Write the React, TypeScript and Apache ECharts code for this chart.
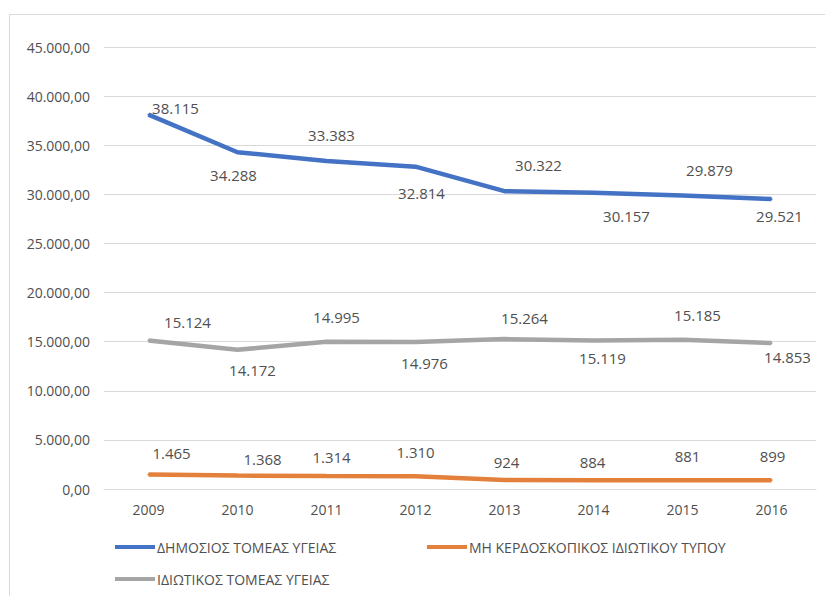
import React, { useEffect, useRef } from "react";
import * as echarts from "echarts";

const years = ["2009", "2010", "2011", "2012", "2013", "2014", "2015", "2016"];
const publicName = "ΔΗΜΟΣΙΟΣ ΤΟΜΕΑΣ ΥΓΕΙΑΣ";
const nonProfitName = "ΜΗ ΚΕΡΔΟΣΚΟΠΙΚΟΣ ΙΔΙΩΤΙΚΟΥ ΤΥΠΟΥ";
const privateName = "ΙΔΙΩΤΙΚΟΣ ΤΟΜΕΑΣ ΥΓΕΙΑΣ";
const publicValues = [38115, 34288, 33383, 32814, 30322, 30157, 29879, 29521];
const nonProfitValues = [1465, 1368, 1314, 1310, 924, 884, 881, 899];
const privateValues = [15124, 14172, 14995, 14976, 15264, 15119, 15185, 14853];

// label offsets (px) relative to each point, mimicking the reference placement
const publicLabelOffsets = [[27, -7], [-4, 23], [5, -26], [6, 26], [34, -26], [33, 23], [27, -26], [8, 17]];
const privateLabelOffsets = [[39, -18], [15, 20], [10, -25], [9, 21], [20, -21], [9, 18], [15, -25], [16, 14]];
const nonProfitLabelOffsets = [[23, -22], [25, -17], [5, -19], [0, -24], [2, -18], [-1, -18], [5, -24], [1, -24]];

const FONT = "'Open Sans', 'Noto Sans', sans-serif";
const TEXT = "#505050";

const fmtThousands = (n: number) => String(Math.round(n)).replace(/\B(?=(\d{3})+(?!\d))/g, ".");
const fmtAxis = (v: number) => fmtThousands(v) + ",00";

function buildData(values: number[], offsets: number[][]) {
  return values.map((v, i) => ({
    value: v,
    label: {
      show: true,
      position: "inside",
      offset: offsets[i],
      formatter: () => fmtThousands(v),
      color: TEXT,
      fontSize: 15,
      fontFamily: FONT,
      align: "center",
      verticalAlign: "middle",
    },
  }));
}

export default function App() {
  const ref = useRef<HTMLDivElement>(null);
  useEffect(() => {
    if (!ref.current) return;
    const chart = echarts.init(ref.current, null, { renderer: "svg" });
    const legendCommon = {
      orient: "horizontal",
      icon: "rect",
      itemWidth: 40,
      itemHeight: 4,
      padding: 0,
      textStyle: { color: TEXT, fontSize: 14, fontFamily: FONT, padding: [0, 0, 0, -3] },
      selectedMode: false,
    };
    chart.setOption({
      animation: false,
      backgroundColor: "#ffffff",
      graphic: [
        {
          type: "rect",
          shape: { x: 9.5, y: 14.5, width: 900, height: 700 },
          style: { fill: "none", stroke: "#d9d9d9", lineWidth: 1 },
          silent: true,
          z: -1,
        },
      ],
      grid: { left: 104, right: 9, top: 47, bottom: 107, containLabel: false },
      legend: [
        { ...legendCommon, data: [publicName], left: 115, top: 540 },
        { ...legendCommon, data: [nonProfitName], left: 427, top: 540 },
        { ...legendCommon, data: [privateName], left: 115, top: 572 },
      ],
      xAxis: {
        type: "category",
        data: years,
        boundaryGap: true,
        axisLine: { show: true, lineStyle: { color: "#d9d9d9", width: 1 } },
        axisTick: { show: false },
        axisLabel: { color: TEXT, fontSize: 14, fontFamily: FONT, margin: 13 },
        splitLine: { show: false },
      },
      yAxis: {
        type: "value",
        min: 0,
        max: 45000,
        interval: 5000,
        axisLine: { show: false },
        axisTick: { show: false },
        axisLabel: { color: TEXT, fontSize: 14, fontFamily: FONT, margin: 14, formatter: fmtAxis },
        splitLine: { lineStyle: { color: "#d9d9d9", width: 1 } },
      },
      series: [
        {
          name: publicName,
          type: "line",
          data: buildData(publicValues, publicLabelOffsets),
          symbol: "circle",
          symbolSize: 2,
          lineStyle: { color: "#4472C4", width: 4.5 },
          itemStyle: { color: "#4472C4" },
          z: 3,
        },
        {
          name: nonProfitName,
          type: "line",
          data: buildData(nonProfitValues, nonProfitLabelOffsets),
          symbol: "circle",
          symbolSize: 2,
          lineStyle: { color: "#E3803C", width: 4.5 },
          itemStyle: { color: "#E3803C" },
          z: 3,
        },
        {
          name: privateName,
          type: "line",
          data: buildData(privateValues, privateLabelOffsets),
          symbol: "circle",
          symbolSize: 2,
          lineStyle: { color: "#A5A5A5", width: 4.5 },
          itemStyle: { color: "#A5A5A5" },
          z: 3,
        },
      ],
    });
    return () => chart.dispose();
  }, []);
  return (
    <div
      ref={ref}
      style={{ position: "fixed", left: 0, top: 0, width: 825, height: 596, background: "#fff" }}
    />
  );
}
